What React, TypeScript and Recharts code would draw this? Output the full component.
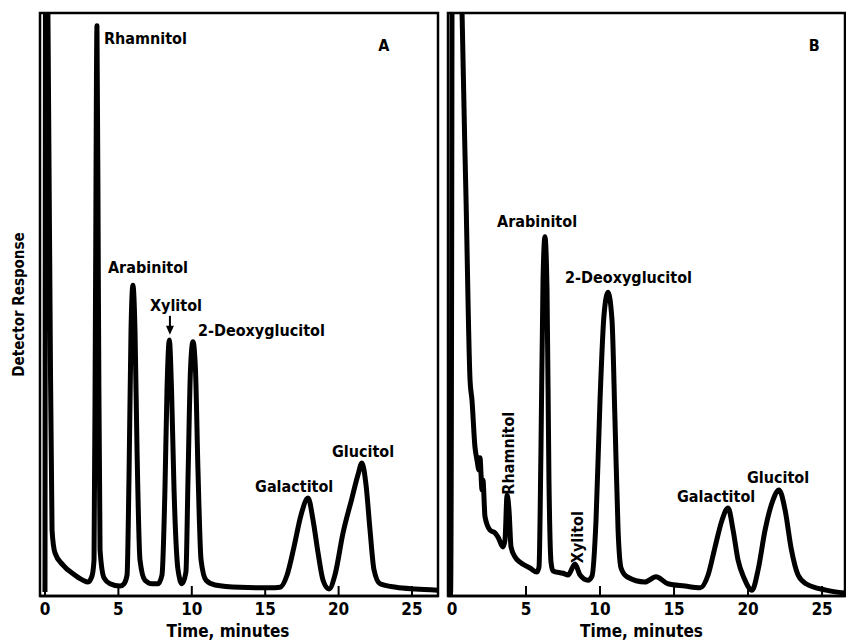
import { LineChart, Line, XAxis, YAxis, ReferenceArea, ReferenceDot } from "recharts";

const FONT = "'DejaVu Sans Condensed', 'Liberation Sans Narrow', sans-serif";

const timeTicks = [0, 5, 10, 15, 20, 25];

// Chromatogram A (standards)
const timeA = [
  0.0, 0.07, 0.2, 0.34, 0.48, 0.68, 1.23, 1.91, 2.59, 2.93, 3.2, 3.34, 3.44, 3.54, 3.64, 3.75, 4.02, 4.43,
  5.11, 5.38, 5.59, 5.72, 5.86, 5.99, 6.13, 6.27, 6.47, 6.81, 7.29, 7.7, 7.97, 8.17, 8.31, 8.47, 8.62, 8.79,
  9.06, 9.33, 9.6, 9.74, 9.91, 10.08, 10.25, 10.42, 10.63, 10.97, 11.58, 13.28, 15.33, 16.01, 16.49, 16.96,
  17.44, 17.92, 18.26, 18.6, 18.94, 19.35, 19.75, 20.3, 20.91, 21.32, 21.59, 21.87, 22.14, 22.41, 22.82,
  23.91, 25.2, 26.77,
];
const responseA = [
  0.7, 160, 100, 50.8, 11.3, 7.4, 5.3, 3.8, 2.7, 2.4, 3.4, 6.2, 50.8, 97.8, 50.8, 7.9, 3.1, 2.1,
  1.7, 2.1, 3.6, 19.9, 45.6, 53.3, 45.6, 25.0, 6.2, 2.7, 2.1, 2.1, 3.6, 18.2, 35.3, 43.9, 35.3, 18.2,
  4.5, 2.1, 4.1, 19.9, 38.8, 43.6, 38.8, 21.6, 6.2, 2.7, 1.9, 1.5, 1.4, 1.5, 3.6, 8.4,
  13.9, 16.8, 13.0, 7.4, 2.7, 1.2, 3.6, 10.8, 16.8, 20.8, 22.8, 19.0, 11.3, 4.5, 2.1,
  1.5, 1.2, 1.0,
];

// Chromatogram B (sample)
const timeB = [
  -0.27, -0.07, 0.07, 0.41, 0.68, 0.95, 1.22, 1.35, 1.55, 1.69, 1.82, 1.89, 2.03, 2.09, 2.23, 2.57, 2.91,
  3.11, 3.45, 3.58, 3.72, 3.85, 3.99, 4.26, 4.59, 5.27, 5.74, 5.88, 6.01, 6.15, 6.28, 6.42, 6.55, 6.69,
  6.82, 7.5, 7.84, 8.31, 8.65, 9.19, 9.46, 9.73, 10.0, 10.27, 10.54, 10.81, 11.01, 11.22, 11.42, 11.82,
  13.04, 13.78, 14.59, 15.74, 16.76, 17.3, 17.77, 18.24, 18.65, 18.99, 19.32, 19.73, 20.27, 20.68, 21.15,
  21.69, 22.09, 22.5, 22.91, 23.38, 23.92, 25.27, 26.55,
];
const responseB = [
  0.3, 0.7, 200, 150, 100, 67.9, 37.0, 33.6, 25.6, 23.3, 21.6, 23.7, 18.2, 19.9, 13.6, 11.3, 10.8,
  10.1, 8.4, 9.6, 17.3, 14.8, 8.4, 6.7, 5.8, 4.8, 4.1, 5.0, 25.0, 54.2, 61.6, 52.5, 19.9, 5.8,
  4.3, 3.9, 3.6, 5.5, 3.6, 2.7, 3.4, 13.0, 33.6, 48.2, 52.1, 47.3, 30.2, 11.3, 4.8, 3.3,
  2.4, 3.3, 2.1, 1.7, 1.4, 3.6, 8.4, 13.0, 15.1, 11.3, 6.2, 3.1, 1.0, 4.5, 11.3,
  16.5, 18.2, 14.8, 8.2, 3.6, 2.1, 1.0, 0.5,
];

// peak names and where they sit (time, response)
const peaksA = [
  { name: "Rhamnitol", t: 4.02, v: 95.7 },
  { name: "Arabinitol", t: 4.29, v: 56.4 },
  { name: "Xylitol", t: 7.15, v: 49.9 },
  { name: "2-Deoxyglucitol", t: 10.42, v: 45.6 },
  { name: "Galactitol", t: 14.31, v: 18.7 },
  { name: "Glucitol", t: 19.55, v: 24.7 },
];
const peaksB = [
  { name: "Arabinitol", t: 3.04, v: 64.2 },
  { name: "2-Deoxyglucitol", t: 7.64, v: 54.7 },
  { name: "Rhamnitol", t: 3.85, v: 24.5, rotated: true },
  { name: "Xylitol", t: 8.45, v: 10.1, rotated: true },
  { name: "Galactitol", t: 15.2, v: 17.0 },
  { name: "Glucitol", t: 19.93, v: 20.4 },
];

const rowsA = timeA.map((time, i) => ({ time, response: responseA[i] }));
const rowsB = timeB.map((time, i) => ({ time, response: responseB[i] }));

function TimeTick({ x, y, payload }: any) {
  return (
    <g>
      <line x1={x} x2={x} y1={y} y2={y - 10} stroke="#000" strokeWidth={2} />
      <text x={x} y={y + 13} textAnchor="middle" dominantBaseline="central" fontFamily={FONT} fontWeight={700} fontSize={17}>
        {payload.value}
      </text>
    </g>
  );
}

function peakName(name: string, rotated?: boolean) {
  return (p: any) => (
    <text
      x={p.cx}
      y={p.cy}
      textAnchor={rotated ? "middle" : "start"}
      dominantBaseline="central"
      transform={rotated ? `rotate(-90 ${p.cx} ${p.cy})` : undefined}
      fontFamily={FONT}
      fontWeight={700}
      fontSize={16}
    >
      {name}
    </text>
  );
}

const arrowShape = (p: any) => (
  <g>
    <line x1={p.cx} x2={p.cx} y1={p.cy - 19} y2={p.cy - 7} stroke="#000" strokeWidth={2} />
    <path d={`M${p.cx - 4},${p.cy - 9} L${p.cx + 4},${p.cy - 9} L${p.cx},${p.cy} Z`} fill="#000" />
  </g>
);

function Panel({ rows, domain, peaks, letter, letterAt, showY, left, width, margin }: any) {
  return (
    <div style={{ position: "absolute", left, top: 0 }}>
      <LineChart width={width} height={643} data={rows} margin={margin}>
        <XAxis
          dataKey="time"
          type="number"
          domain={domain}
          allowDataOverflow
          ticks={timeTicks}
          tick={<TimeTick />}
          tickSize={0}
          tickMargin={0}
          tickLine={false}
          axisLine={{ stroke: "#000", strokeWidth: 2.5 }}
          height={47}
          label={{
            value: "Time, minutes",
            position: "insideBottom",
            offset: 6,
            dx: showY ? -11 : -5,
            fill: "#000",
            fontFamily: FONT,
            fontWeight: 700,
            fontSize: 17,
          }}
        />
        <YAxis
          type="number"
          domain={[0, 100]}
          allowDataOverflow
          hide={!showY}
          width={40}
          tick={false}
          tickLine={false}
          axisLine={false}
          label={
            showY
              ? {
                  value: "Detector Response",
                  angle: -90,
                  position: "center",
                  dx: -1,
                  fill: "#000",
                  fontFamily: FONT,
                  fontWeight: 700,
                  fontSize: 15,
                }
              : undefined
          }
        />
        <ReferenceArea x1={domain[0]} x2={domain[1]} y1={0} y2={100} fill="none" stroke="#000" strokeWidth={2.5} />
        <Line
          type="monotone"
          dataKey="response"
          stroke="#000"
          strokeWidth={5}
          strokeLinejoin="round"
          dot={false}
          isAnimationActive={false}
        />
        {peaks.map((pk: any) => (
          <ReferenceDot key={pk.name} x={pk.t} y={pk.v} r={0} shape={peakName(pk.name, pk.rotated)} />
        ))}
        <ReferenceDot x={letterAt[0]} y={letterAt[1]} r={0} shape={peakName(letter)} />
        {showY && <ReferenceDot x={8.51} y={44.8} r={0} shape={arrowShape} />}
      </LineChart>
    </div>
  );
}

export default function App() {
  return (
    <div style={{ position: "absolute", left: 0, top: 0, width: 846, height: 643, background: "#fff", overflow: "hidden" }}>
      <Panel
        rows={rowsA}
        domain={[-0.34, 26.77]}
        peaks={peaksA}
        letter="A"
        letterAt={[22.7, 94.5]}
        showY
        left={0}
        width={446}
        margin={{ top: 13, right: 8, bottom: 0, left: 0 }}
      />
      <Panel
        rows={rowsB}
        domain={[-0.27, 26.55]}
        peaks={peaksB}
        letter="B"
        letterAt={[24.1, 94.5]}
        showY={false}
        left={446}
        width={400}
        margin={{ top: 13, right: 1, bottom: 0, left: 2 }}
      />
    </div>
  );
}
